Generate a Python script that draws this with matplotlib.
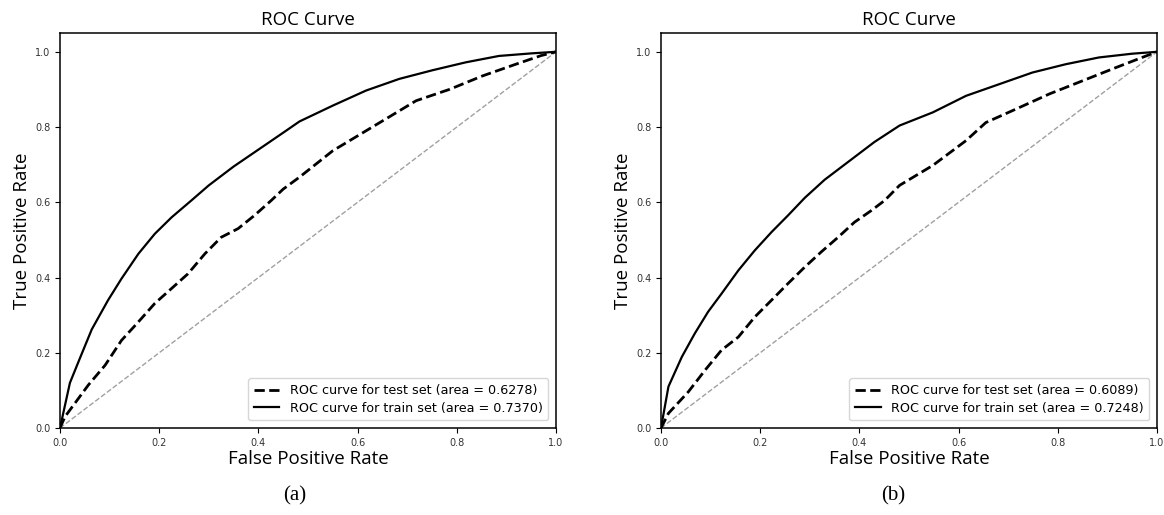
import matplotlib
matplotlib.use("Agg")
import matplotlib.pyplot as plt

# ---- data ----
fpr_train_a = [0.0, 0.02, 0.04, 0.064, 0.097, 0.124, 0.158, 0.191, 0.225, 0.265, 0.30, 0.35, 0.40, 0.45,
               0.483, 0.55, 0.617, 0.684, 0.751, 0.818, 0.885, 0.952, 1.0]
tpr_train_a = [0.0, 0.12, 0.185, 0.262, 0.34, 0.397, 0.463, 0.516, 0.56, 0.605, 0.645, 0.695, 0.74, 0.785,
               0.815, 0.857, 0.897, 0.928, 0.951, 0.972, 0.989, 0.996, 1.0]
fpr_test_a = [0.0, 0.01, 0.057, 0.091, 0.124, 0.158, 0.191, 0.225, 0.258, 0.292, 0.325, 0.359, 0.392, 0.426,
              0.45, 0.483, 0.55, 0.617, 0.684, 0.718, 0.785, 0.852, 0.919, 0.97, 1.0]
tpr_test_a = [0.0, 0.03, 0.114, 0.167, 0.233, 0.282, 0.331, 0.371, 0.41, 0.463, 0.507, 0.53, 0.565, 0.605,
              0.635, 0.667, 0.737, 0.79, 0.843, 0.87, 0.9, 0.936, 0.967, 0.99, 1.0]

fpr_train_b = [0.0, 0.015, 0.042, 0.068, 0.095, 0.122, 0.156, 0.189, 0.223, 0.256, 0.29, 0.33, 0.38, 0.43,
               0.481, 0.548, 0.615, 0.682, 0.749, 0.816, 0.883, 0.95, 1.0]
tpr_train_b = [0.0, 0.11, 0.189, 0.251, 0.309, 0.357, 0.419, 0.472, 0.521, 0.565, 0.612, 0.66, 0.71, 0.76,
               0.804, 0.839, 0.883, 0.914, 0.945, 0.967, 0.985, 0.995, 1.0]
fpr_test_b = [0.0, 0.015, 0.055, 0.089, 0.122, 0.156, 0.189, 0.223, 0.256, 0.29, 0.323, 0.357, 0.39, 0.424,
              0.451, 0.481, 0.548, 0.615, 0.655, 0.716, 0.783, 0.85, 0.917, 0.97, 1.0]
tpr_test_b = [0.0, 0.039, 0.096, 0.154, 0.207, 0.242, 0.295, 0.34, 0.384, 0.428, 0.468, 0.507, 0.547, 0.578,
              0.605, 0.645, 0.698, 0.764, 0.812, 0.848, 0.888, 0.923, 0.958, 0.985, 1.0]

auc_test = ["0.6278", "0.6089"]
auc_train = ["0.7370", "0.7248"]
panel_labels = ["(a)", "(b)"]

W, H = 1164, 515
fig = plt.figure(figsize=(W / 100, H / 100), dpi=100)

axes_px = [(60, 33, 556, 428), (661, 33, 1157, 428)]
panel_x = [295, 893]
data = [(fpr_test_a, tpr_test_a, fpr_train_a, tpr_train_a),
        (fpr_test_b, tpr_test_b, fpr_train_b, tpr_train_b)]

for i, (l, t, r, b) in enumerate(axes_px):
    ax = fig.add_axes([l / W, 1 - b / H, (r - l) / W, (b - t) / H])
    ft, tt, fr, tr = data[i]
    ax.plot([0, 1], [0, 1], color="#a0a0a0", lw=1, ls="--")
    ax.plot(ft, tt, color="black", lw=2, ls="--",
            label=f"ROC curve for test set (area = {auc_test[i]})")
    ax.plot(fr, tr, color="black", lw=1.6, ls="-",
            label=f"ROC curve for train set (area = {auc_train[i]})")
    ax.set_xlim(0, 1)
    ax.set_ylim(0, 1.05)
    ax.set_xticks([0, 0.2, 0.4, 0.6, 0.8, 1.0])
    ax.set_yticks([0, 0.2, 0.4, 0.6, 0.8, 1.0])
    ax.tick_params(labelsize=7, labelcolor="#333333", length=3.5)
    ax.set_title("ROC Curve", fontsize=13.5, family="Open Sans", pad=6)
    ax.set_xlabel("False Positive Rate", fontsize=13.5, family="Open Sans", labelpad=2)
    ax.set_ylabel("True Positive Rate", fontsize=13.5, family="Open Sans", labelpad=3)
    for s in ax.spines.values():
        s.set_linewidth(1.1)
    ax.legend(loc="lower right", prop={"family": "DejaVu Sans", "size": 9.2},
              handlelength=2.0, borderpad=0.45, labelspacing=0.35, borderaxespad=0.6)
    fig.text(panel_x[i] / W, 1 - 496 / H, panel_labels[i], ha="center", va="center",
             fontsize=15, family="Liberation Serif")

fig.savefig("out.png", dpi=100)
